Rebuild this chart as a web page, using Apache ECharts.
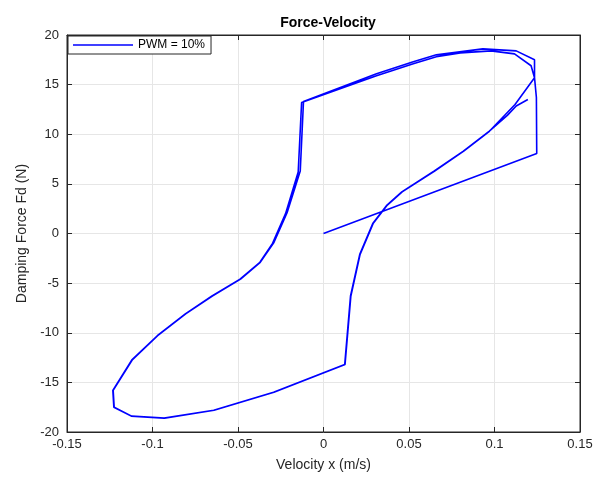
<!DOCTYPE html>
<html><head><meta charset="utf-8">
<script src="https://cdn.jsdelivr.net/npm/echarts@6/dist/echarts.min.js"></script>
<style>html,body{margin:0;padding:0;background:#fff}#c{width:608px;height:479px}</style>
</head><body><div id="c"></div>
<script>
const titleText = 'Force-Velocity';
const xName = 'Velocity x (m/s)';
const yName = 'Damping Force Fd (N)';
const seriesName = 'PWM = 10%';
const xTicks = [-0.15, -0.1, -0.05, 0, 0.05, 0.1, 0.15];
const yTicks = [-20, -15, -10, -5, 0, 5, 10, 15, 20];

const velocity = [
  0, 0.1247, 0.1245, 0.1234, 0.1234, 0.1127, 0.0932, 0.066, 0.0525, 0.031, -0.0117,
  -0.0136, -0.0213, -0.029, -0.037, -0.0485, -0.065, -0.0806, -0.097, -0.1117, -0.123,
  -0.1224, -0.1122, -0.093, -0.064, -0.029, 0.0126, 0.016, 0.0214, 0.029, 0.037,
  0.046, 0.065, 0.082, 0.097, 0.112, 0.1234,
  0.1214, 0.1117, 0.098, 0.08, 0.066, 0.0525, 0.031, -0.0128,
  -0.0148, -0.0222, -0.0298, -0.0372, -0.0488, -0.0652, -0.0808, -0.0972, -0.1119, -0.1232,
  -0.1226, -0.1124, -0.0932, -0.0642, -0.0292, 0.0124, 0.0158, 0.0212, 0.0288, 0.0368,
  0.0458, 0.0648, 0.0818, 0.0968, 0.1075, 0.1127, 0.1195
];
const force = [
  0, 8.05, 13.7, 15.7, 17.5, 18.4, 18.6, 18.0, 17.3, 16.1, 13.3,
  6.3, 2.1, -0.9, -2.9, -4.6, -6.3, -8.1, -10.3, -12.7, -15.8,
  -17.5, -18.4, -18.6, -17.8, -16.0, -13.2, -6.3, -2.1, 1.0, 2.8,
  4.2, 6.3, 8.3, 10.3, 13.0, 15.7,
  16.9, 18.1, 18.4, 18.2, 17.8, 17.1, 15.9, 13.2,
  6.2, 2.0, -1.0, -2.9, -4.6, -6.3, -8.1, -10.3, -12.7, -15.8,
  -17.5, -18.4, -18.6, -17.8, -16.0, -13.2, -6.3, -2.1, 1.0, 2.8,
  4.2, 6.3, 8.3, 10.3, 11.9, 12.85, 13.5
];

const pts = velocity.map((v, i) => [v, force[i]]);
const axisCol = '#262626';
const gridCol = '#e6e6e6';
const font = 'Liberation Sans, Arial, sans-serif';
const tick = {show: true, inside: true, length: 5, lineStyle: {color: axisCol}};
const line = {show: true, onZero: false, lineStyle: {color: axisCol, width: 1}};
const chart = echarts.init(document.getElementById('c'), null, {renderer: 'canvas'});
chart.setOption({
  animation: false,
  title: {text: titleText, left: 323, textAlign: 'center', top: 11,
    textStyle: {fontFamily: font, fontSize: 14, fontWeight: 'bold', color: '#000'}},
  legend: {left: 68, top: 36, orient: 'vertical', backgroundColor: '#fff', borderColor: axisCol,
    borderWidth: 1, borderRadius: 0, padding: [3, 6, 3, 5], itemWidth: 60, itemHeight: 12, itemGap: 4,
    textStyle: {fontFamily: font, fontSize: 12, color: '#000'},
    data: [{name: seriesName, icon: 'path://M0,5L60,5L60,6.6L0,6.6Z'}]},
  grid: {left: 67, right: 28, top: 35, bottom: 47, show: true, borderColor: axisCol, borderWidth: 1},
  xAxis: [{type: 'value', min: -0.15, max: 0.15, interval: 0.05, name: xName, nameLocation: 'middle', nameGap: 26,
    nameTextStyle: {fontFamily: font, fontSize: 14, color: axisCol},
    axisLine: line, axisTick: tick,
    axisLabel: {fontFamily: font, fontSize: 13, color: axisCol, margin: 6, formatter: v => String(+v.toFixed(2))},
    splitLine: {show: true, lineStyle: {color: gridCol}}},
   {type: 'value', position: 'top', min: -0.15, max: 0.15, interval: 0.05,
    axisLine: line, axisTick: tick, axisLabel: {show: false}, splitLine: {show: false}}],
  yAxis: [{type: 'value', min: -20, max: 20, interval: 5, name: yName, nameLocation: 'middle', nameGap: 36,
    nameTextStyle: {fontFamily: font, fontSize: 14, color: axisCol},
    axisLine: line, axisTick: tick,
    axisLabel: {fontFamily: font, fontSize: 13, color: axisCol, margin: 8},
    splitLine: {show: true, lineStyle: {color: gridCol}}},
   {type: 'value', position: 'right', min: -20, max: 20, interval: 5,
    axisLine: line, axisTick: tick, axisLabel: {show: false}, splitLine: {show: false}}],
  series: [{name: seriesName, type: 'line', data: pts, showSymbol: false, symbol: 'none',
    lineStyle: {color: '#0000ff', width: 1.6}, itemStyle: {color: '#0000ff'}}]
});
</script></body></html>
